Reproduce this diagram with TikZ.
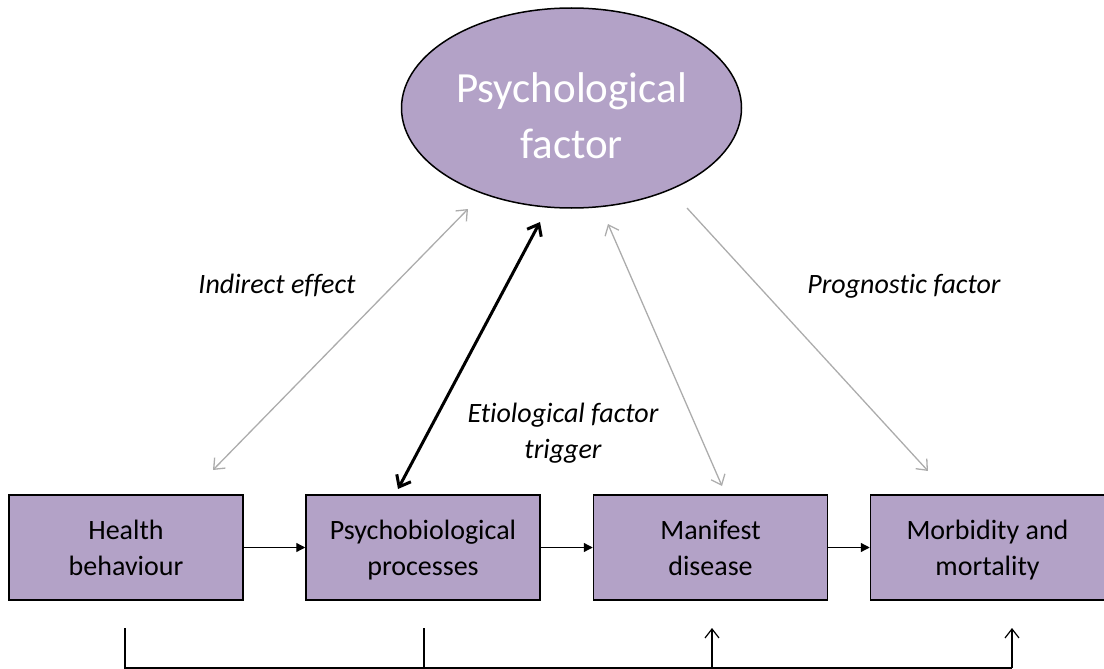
\documentclass[tikz,border=0pt]{standalone}
\usepackage{fontspec}
\setmainfont{Carlito}[Ligatures=CommonOff]
\usetikzlibrary{arrows.meta,shapes.geometric}
\definecolor{boxpurple}{RGB}{179,162,199}
\definecolor{arrgray}{RGB}{172,172,172}
\tikzset{
  graytip/.tip={Straight Barb[length=9pt,width=15pt,line width=1.3pt]},
  boldtip/.tip={Straight Barb[length=10pt,width=16pt,line width=3pt]},
  uptip/.tip={Straight Barb[length=9pt,width=14pt,line width=1.2pt]}
}
\newcommand{\topst}[1]{\rule{0pt}{#1}}
\newcommand{\botst}[1]{\rule[-#1]{0pt}{#1}}
\begin{document}
\begin{tikzpicture}[x=1pt,y=-1pt,
  box/.style={draw=black, line width=1.5pt, fill=boxpurple, minimum width=234pt,
    minimum height=105pt, inner sep=0pt, align=center, text=black,
    font=\fontsize{28}{36}\selectfont},
  oval/.style={ellipse, draw=black, line width=1.5pt, fill=boxpurple, minimum width=340pt,
    minimum height=200pt, inner sep=0pt, align=center, text=white,
    font=\fontsize{43}{56}\selectfont},
  lbl/.style={align=center, inner sep=0pt, font=\fontsize{28}{36}\selectfont\itshape, text=black},
  flow/.style={line width=1.3pt, -{Triangle[length=9pt,width=9pt]}},
  grayarr/.style={draw=arrgray, line width=1.3pt},
  bold/.style={line width=3pt, {boldtip}-{boldtip}},
  uparr/.style={line width=1.2pt, -{uptip}},
  plain/.style={line width=1.2pt}]
\useasboundingbox (0,0) rectangle (1104,669);

\node[oval] (pf) at (571.5,108) {\topst{46pt}Psychological\\factor};

\node[box] (hb) at (126,547.5) {\topst{27pt}Health\\behaviour\botst{8pt}};
\node[box] (pp) at (423,547.5) {\topst{27pt}Psychobiological\\processes\botst{8pt}};
\node[box] (md) at (710.5,547.5) {\topst{27pt}Manifest\\disease\botst{8pt}};
\node[box] (mm) at (987.5,547.5) {\topst{27pt}Morbidity and\\mortality\botst{8pt}};

\draw[flow] (hb.east) -- (pp.west);
\draw[flow] (pp.east) -- (md.west);
\draw[flow] (md.east) -- (mm.west);

% arrow end points
\coordinate (a1s) at (213,470);
\coordinate (a1e) at (468,209);
\coordinate (a2s) at (398,489);
\coordinate (a2e) at (540,222);
\coordinate (a3s) at (722,486);
\coordinate (a3e) at (608,224);
\coordinate (a4s) at (687,208);
\coordinate (a4e) at (928,471);

\draw[grayarr, {graytip}-{graytip}] (a1s) -- (a1e);
\draw[bold] (a2s) -- (a2e);
\draw[grayarr, {graytip}-{graytip}] (a3s) -- (a3e);
\draw[grayarr, -{graytip}] (a4s) -- (a4e);

\node[lbl, anchor=base] (ie) at (277,293) {Indirect effect};
\node[lbl, anchor=base] (pg) at (904,293) {Prognostic factor};
\node[lbl] (ef) at (563,431) {\topst{26pt}Etiological factor\\trigger\botst{8pt}};

% bottom bracket
\coordinate (b1) at (125,628);
\coordinate (b1b) at (125,668);
\coordinate (b2) at (424,628);
\coordinate (b2b) at (424,668);
\coordinate (b3) at (712,628);
\coordinate (b3b) at (712,668);
\coordinate (b4) at (1012,628);
\coordinate (b4b) at (1012,668);
\draw[plain] (b1) -- (b1b) -- (b4b);
\draw[plain] (b2) -- (b2b);
\draw[uparr] (b3b) -- (b3);
\draw[uparr] (b4b) -- (b4);
\end{tikzpicture}
\end{document}
